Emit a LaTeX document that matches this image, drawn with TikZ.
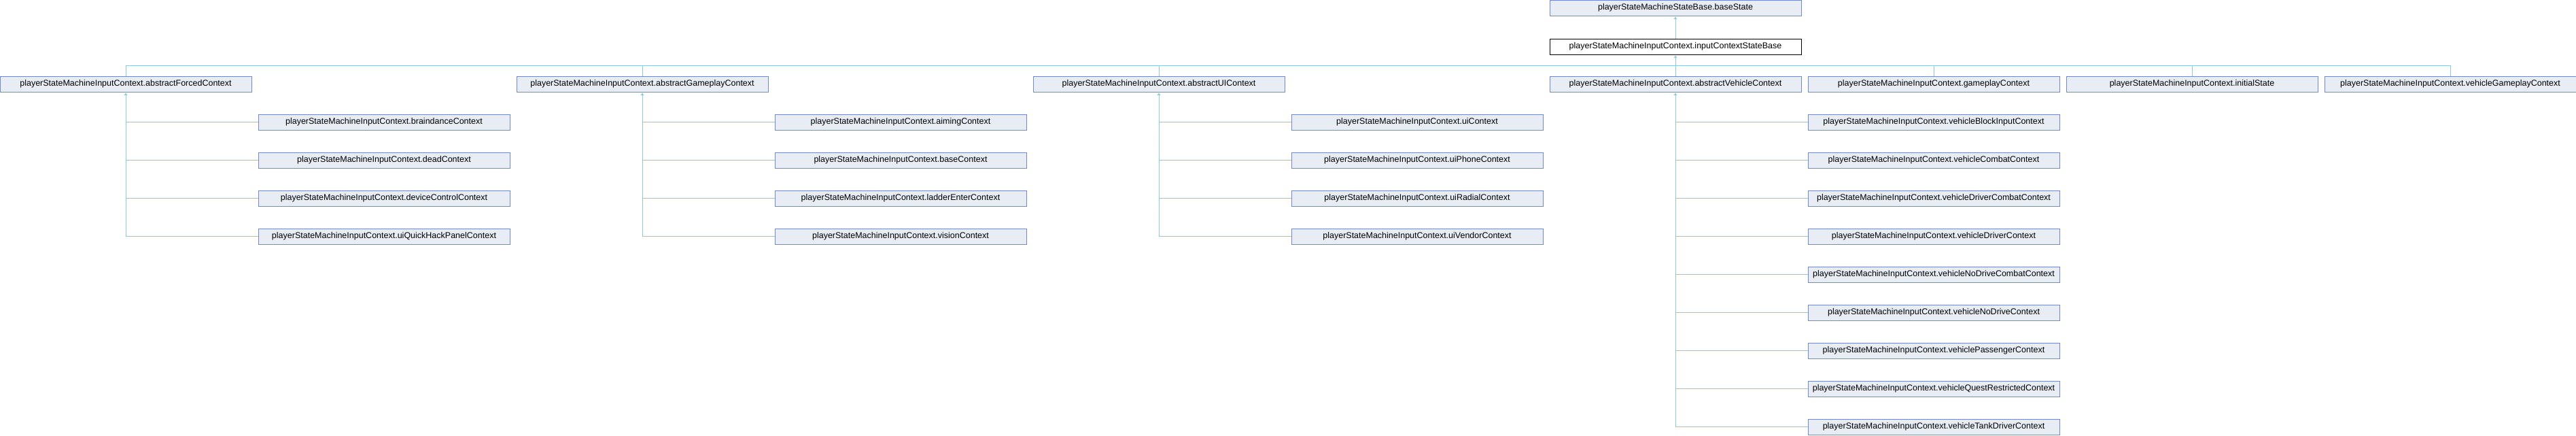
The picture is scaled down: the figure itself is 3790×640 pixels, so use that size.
\documentclass[tikz,border=0pt]{standalone}
\usepackage{fontspec}
\setmainfont{Liberation Sans}
\usetikzlibrary{arrows.meta}
\definecolor{edgec}{RGB}{140,200,232}
\definecolor{boxfill}{RGB}{232,236,245}
\definecolor{boxline}{RGB}{112,140,204}
\tikzset{
  cls/.style={draw=boxline, fill=boxfill, line width=1pt, anchor=north west,
    minimum width=370pt, minimum height=23pt, inner sep=0pt, outer sep=0pt,
    font=\fontsize{12.5}{14}\selectfont, text=black},
  cur/.style={cls, draw=black, fill=white},
  edge/.style={draw=edgec, line width=1pt},
  inh/.style={edge, {Triangle[length=3.5pt,width=4.5pt]}-, shorten <=1.5pt},
}
\begin{document}
\begin{tikzpicture}[x=1pt,y=-1pt]
\useasboundingbox (0,0) rectangle (3790,640);
% top
\node[cls] (base) at (2280,0) {playerStateMachineStateBase.baseState};
\node[cur] (icsb) at (2280,57) {playerStateMachineInputContext.inputContextStateBase};
% row 1
\node[cls] (aForced) at (0,112) {playerStateMachineInputContext.abstractForcedContext};
\node[cls] (aGame) at (760,112) {playerStateMachineInputContext.abstractGameplayContext};
\node[cls] (aUI) at (1520,112) {playerStateMachineInputContext.abstractUIContext};
\node[cls] (aVeh) at (2280,112) {playerStateMachineInputContext.abstractVehicleContext};
\node[cls] (gameplay) at (2660,112) {playerStateMachineInputContext.gameplayContext};
\node[cls] (initial) at (3040,112) {playerStateMachineInputContext.initialState};
\node[cls] (vehGame) at (3420,112) {playerStateMachineInputContext.vehicleGameplayContext};
% forced children
\node[cls] (brain) at (380,168) {playerStateMachineInputContext.braindanceContext};
\node[cls] (dead) at (380,224) {playerStateMachineInputContext.deadContext};
\node[cls] (device) at (380,280) {playerStateMachineInputContext.deviceControlContext};
\node[cls] (quick) at (380,336) {playerStateMachineInputContext.uiQuickHackPanelContext};
% gameplay children
\node[cls] (aiming) at (1140,168) {playerStateMachineInputContext.aimingContext};
\node[cls] (baseC) at (1140,224) {playerStateMachineInputContext.baseContext};
\node[cls] (ladder) at (1140,280) {playerStateMachineInputContext.ladderEnterContext};
\node[cls] (vision) at (1140,336) {playerStateMachineInputContext.visionContext};
% ui children
\node[cls] (ui) at (1900,168) {playerStateMachineInputContext.uiContext};
\node[cls] (phone) at (1900,224) {playerStateMachineInputContext.uiPhoneContext};
\node[cls] (radial) at (1900,280) {playerStateMachineInputContext.uiRadialContext};
\node[cls] (vendor) at (1900,336) {playerStateMachineInputContext.uiVendorContext};
% vehicle children
\node[cls] (vBlock) at (2660,168) {playerStateMachineInputContext.vehicleBlockInputContext};
\node[cls] (vCombat) at (2660,224) {playerStateMachineInputContext.vehicleCombatContext};
\node[cls] (vDrvCombat) at (2660,280) {playerStateMachineInputContext.vehicleDriverCombatContext};
\node[cls] (vDriver) at (2660,336) {playerStateMachineInputContext.vehicleDriverContext};
\node[cls] (vNoDrvCombat) at (2660,392) {playerStateMachineInputContext.vehicleNoDriveCombatContext};
\node[cls] (vNoDrive) at (2660,448) {playerStateMachineInputContext.vehicleNoDriveContext};
\node[cls] (vPass) at (2660,504) {playerStateMachineInputContext.vehiclePassengerContext};
\node[cls] (vQuest) at (2660,560) {playerStateMachineInputContext.vehicleQuestRestrictedContext};
\node[cls] (vTank) at (2660,616) {playerStateMachineInputContext.vehicleTankDriverContext};
% bus
\coordinate (busL) at (185,96);
\coordinate (busR) at (3605,96);
% edges
\draw[inh] (base.south) -- (icsb.north);
\draw[edge] (busL) -- (busR);
\draw[inh] (icsb.south) -- (icsb.south |- busL);
\foreach \n in {aForced,aGame,aUI,aVeh,gameplay,initial,vehGame}
  \draw[edge] (\n.north |- busL) -- (\n.north);
% children
\draw[inh] (aForced.south) -- (aForced.south |- quick.west);
\foreach \c in {brain,dead,device,quick}
  \draw[edge] (aForced.south |- \c.west) -- (\c.west);
\draw[inh] (aGame.south) -- (aGame.south |- vision.west);
\foreach \c in {aiming,baseC,ladder,vision}
  \draw[edge] (aGame.south |- \c.west) -- (\c.west);
\draw[inh] (aUI.south) -- (aUI.south |- vendor.west);
\foreach \c in {ui,phone,radial,vendor}
  \draw[edge] (aUI.south |- \c.west) -- (\c.west);
\draw[inh] (aVeh.south) -- (aVeh.south |- vTank.west);
\foreach \c in {vBlock,vCombat,vDrvCombat,vDriver,vNoDrvCombat,vNoDrive,vPass,vQuest,vTank}
  \draw[edge] (aVeh.south |- \c.west) -- (\c.west);
\end{tikzpicture}
\end{document}
